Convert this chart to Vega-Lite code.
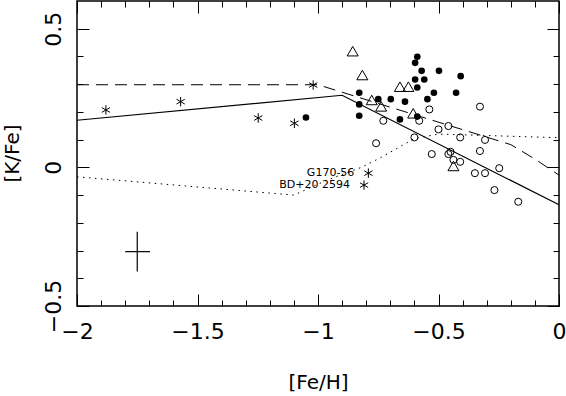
{
  "$schema": "https://vega.github.io/schema/vega-lite/v6.json",
  "width": 482,
  "height": 305,
  "autosize": "none",
  "padding": {"left": 77, "top": 1, "right": 7, "bottom": 90},
  "background": "white",
  "config": {
    "view": {"stroke": "black", "strokeWidth": 1.5},
    "axis": {
      "domain": false, "grid": false,
      "tickColor": "black", "tickWidth": 1,
      "labelFont": "DejaVu Sans", "labelFontSize": 22, "labelColor": "black",
      "titleFont": "DejaVu Sans", "titleFontSize": 20, "titleColor": "black", "titleFontWeight": "normal",
      "labelOverlap": false, "labelFlush": false
    }
  },
  "datasets": {
    "filled": [
      {"feh": -1.05, "kfe": 0.18}, {"feh": -0.829, "kfe": 0.269}, {"feh": -0.829, "kfe": 0.227},
      {"feh": -0.829, "kfe": 0.186}, {"feh": -0.75, "kfe": 0.246}, {"feh": -0.698, "kfe": 0.246},
      {"feh": -0.639, "kfe": 0.237}, {"feh": -0.66, "kfe": 0.173}, {"feh": -0.588, "kfe": 0.399},
      {"feh": -0.597, "kfe": 0.377}, {"feh": -0.57, "kfe": 0.348}, {"feh": -0.498, "kfe": 0.348},
      {"feh": -0.408, "kfe": 0.329}, {"feh": -0.597, "kfe": 0.317}, {"feh": -0.559, "kfe": 0.317},
      {"feh": -0.588, "kfe": 0.288}, {"feh": -0.519, "kfe": 0.269}, {"feh": -0.427, "kfe": 0.269},
      {"feh": -0.546, "kfe": 0.246}, {"feh": -0.588, "kfe": 0.183}
    ],
    "open": [
      {"feh": -0.729, "kfe": 0.168}, {"feh": -0.759, "kfe": 0.087}, {"feh": -0.58, "kfe": 0.168},
      {"feh": -0.538, "kfe": 0.209}, {"feh": -0.328, "kfe": 0.219}, {"feh": -0.459, "kfe": 0.149},
      {"feh": -0.5, "kfe": 0.137}, {"feh": -0.6, "kfe": 0.108}, {"feh": -0.41, "kfe": 0.108},
      {"feh": -0.307, "kfe": 0.099}, {"feh": -0.328, "kfe": 0.059}, {"feh": -0.528, "kfe": 0.048},
      {"feh": -0.45, "kfe": 0.056}, {"feh": -0.459, "kfe": 0.048}, {"feh": -0.438, "kfe": 0.027},
      {"feh": -0.41, "kfe": 0.02}, {"feh": -0.248, "kfe": -0.003}, {"feh": -0.349, "kfe": -0.021},
      {"feh": -0.307, "kfe": -0.021}, {"feh": -0.268, "kfe": -0.082}, {"feh": -0.169, "kfe": -0.124}
    ],
    "triangles": [
      {"feh": -0.856, "kfe": 0.419}, {"feh": -0.816, "kfe": 0.333}, {"feh": -0.777, "kfe": 0.243},
      {"feh": -0.738, "kfe": 0.22}, {"feh": -0.66, "kfe": 0.291}, {"feh": -0.625, "kfe": 0.291},
      {"feh": -0.605, "kfe": 0.195}, {"feh": -0.438, "kfe": 0.005}
    ],
    "stars": [
      {"feh": -1.88, "kfe": 0.207, "name": ""}, {"feh": -1.57, "kfe": 0.237, "name": ""},
      {"feh": -1.248, "kfe": 0.178, "name": ""}, {"feh": -1.098, "kfe": 0.159, "name": ""},
      {"feh": -1.02, "kfe": 0.297, "name": ""}, {"feh": -0.791, "kfe": -0.021, "name": "G170-56"},
      {"feh": -0.809, "kfe": -0.064, "name": "BD+20 2594"}
    ],
    "solid": [
      {"feh": -2, "kfe": 0.17}, {"feh": -0.9, "kfe": 0.26}, {"feh": 0, "kfe": -0.135}
    ],
    "dashed": [
      {"feh": -2, "kfe": 0.298}, {"feh": -1.0, "kfe": 0.298}, {"feh": -0.2, "kfe": 0.082},
      {"feh": -0.1, "kfe": 0.03}, {"feh": 0, "kfe": -0.028}
    ],
    "dotted": [
      {"feh": -2, "kfe": -0.034}, {"feh": -1.1, "kfe": -0.1}, {"feh": -0.96, "kfe": -0.045},
      {"feh": -0.82, "kfe": 0.0}, {"feh": -0.74, "kfe": 0.035}, {"feh": -0.6, "kfe": 0.104},
      {"feh": -0.5, "kfe": 0.12}, {"feh": 0, "kfe": 0.107}
    ],
    "errx": [{"x1": -1.8, "x2": -1.697, "y": -0.304}],
    "erry": [{"x": -1.75, "y1": -0.376, "y2": -0.232}]
  },
  "resolve": {"axis": {"x": "independent", "y": "independent"}},
  "layer": [
    {
      "data": {"name": "dotted"},
      "mark": {"type": "line", "stroke": "black", "strokeWidth": 1, "strokeDash": [1.5, 4.5]},
      "encoding": {
        "x": {"field": "feh", "type": "quantitative", "scale": {"domain": [-2, 0], "nice": false, "zero": false},
          "axis": {"orient": "bottom", "values": [-2, -1.5, -1, -0.5, 0], "format": "~g", "tickSize": -12, "labelPadding": 27,
            "title": "[Fe/H]", "titleX": 241, "titleY": 66, "titleBaseline": "top"}},
        "y": {"field": "kfe", "type": "quantitative", "scale": {"domain": [-0.5, 0.6], "nice": false, "zero": false},
          "axis": {"orient": "left", "values": [-0.5, 0, 0.5], "format": "~g", "tickSize": -12, "labelPadding": 29,
            "labelAngle": -90, "labelAlign": "center", "labelBaseline": "alphabetic",
            "title": "[K/Fe]", "titleAngle": -90, "titleBaseline": "alphabetic", "titleX": -59, "titleY": 152}}
      }
    },
    {
      "data": {"name": "dashed"},
      "mark": {"type": "line", "stroke": "black", "strokeWidth": 1, "strokeDash": [12, 7]},
      "encoding": {
        "x": {"field": "feh", "type": "quantitative", "scale": {"domain": [-2, 0], "nice": false, "zero": false},
          "axis": {"orient": "bottom", "values": [-1.9, -1.8, -1.7, -1.6, -1.4, -1.3, -1.2, -1.1, -0.9, -0.8, -0.7, -0.6, -0.4, -0.3, -0.2, -0.1], "tickSize": -6, "labels": false, "title": null}},
        "y": {"field": "kfe", "type": "quantitative", "scale": {"domain": [-0.5, 0.6], "nice": false, "zero": false},
          "axis": {"orient": "left", "values": [-0.4, -0.3, -0.2, -0.1, 0.1, 0.2, 0.3, 0.4], "tickSize": -6, "labels": false, "title": null}}
      }
    },
    {
      "data": {"name": "solid"},
      "mark": {"type": "line", "stroke": "black", "strokeWidth": 1.2},
      "encoding": {
        "x": {"field": "feh", "type": "quantitative", "scale": {"domain": [-2, 0], "nice": false, "zero": false},
          "axis": {"orient": "top", "values": [-2, -1.5, -1, -0.5, 0], "tickSize": -12, "labels": false, "title": null}},
        "y": {"field": "kfe", "type": "quantitative", "scale": {"domain": [-0.5, 0.6], "nice": false, "zero": false},
          "axis": {"orient": "right", "values": [-0.5, 0, 0.5], "tickSize": -12, "labels": false, "title": null}}
      }
    },
    {
      "data": {"name": "errx"},
      "mark": {"type": "rule", "stroke": "black", "strokeWidth": 1.2},
      "encoding": {
        "x": {"field": "x1", "type": "quantitative", "scale": {"domain": [-2, 0], "nice": false, "zero": false},
          "axis": {"orient": "top", "values": [-1.9, -1.8, -1.7, -1.6, -1.4, -1.3, -1.2, -1.1, -0.9, -0.8, -0.7, -0.6, -0.4, -0.3, -0.2, -0.1], "tickSize": -6, "labels": false, "title": null}},
        "x2": {"field": "x2"},
        "y": {"field": "y", "type": "quantitative", "scale": {"domain": [-0.5, 0.6], "nice": false, "zero": false},
          "axis": {"orient": "right", "values": [-0.4, -0.3, -0.2, -0.1, 0.1, 0.2, 0.3, 0.4], "tickSize": -6, "labels": false, "title": null}}
      }
    },
    {
      "data": {"name": "erry"},
      "mark": {"type": "rule", "stroke": "black", "strokeWidth": 1.2},
      "encoding": {
        "x": {"field": "x", "type": "quantitative", "axis": null},
        "y": {"field": "y1", "type": "quantitative", "axis": null},
        "y2": {"field": "y2"}
      }
    },
    {
      "data": {"name": "open"},
      "mark": {"type": "point", "shape": "circle", "filled": false, "stroke": "black", "strokeWidth": 1, "size": 50, "opacity": 1},
      "encoding": {
        "x": {"field": "feh", "type": "quantitative", "axis": null},
        "y": {"field": "kfe", "type": "quantitative", "axis": null}
      }
    },
    {
      "data": {"name": "filled"},
      "mark": {"type": "point", "shape": "circle", "filled": true, "fill": "black", "strokeWidth": 0, "size": 44, "opacity": 1},
      "encoding": {
        "x": {"field": "feh", "type": "quantitative", "axis": null},
        "y": {"field": "kfe", "type": "quantitative", "axis": null}
      }
    },
    {
      "data": {"name": "triangles"},
      "mark": {"type": "point", "shape": "triangle-up", "filled": false, "stroke": "black", "strokeWidth": 1, "size": 121, "opacity": 1},
      "encoding": {
        "x": {"field": "feh", "type": "quantitative", "axis": null},
        "y": {"field": "kfe", "type": "quantitative", "axis": null}
      }
    },
    {
      "data": {"name": "stars"},
      "mark": {"type": "point", "shape": "M0,-1L0,1M-0.866,-0.5L0.866,0.5M-0.866,0.5L0.866,-0.5", "filled": false, "stroke": "black", "strokeWidth": 1, "size": 90, "opacity": 1},
      "encoding": {
        "x": {"field": "feh", "type": "quantitative", "axis": null},
        "y": {"field": "kfe", "type": "quantitative", "axis": null}
      }
    },
    {
      "data": {"name": "stars"},
      "transform": [{"filter": "datum.name != ''"}],
      "mark": {"type": "text", "align": "right", "baseline": "middle", "dx": -14, "font": "DejaVu Sans", "fontSize": 11, "color": "black"},
      "encoding": {
        "x": {"field": "feh", "type": "quantitative", "axis": null},
        "y": {"field": "kfe", "type": "quantitative", "axis": null},
        "text": {"field": "name"}
      }
    }
  ]
}
